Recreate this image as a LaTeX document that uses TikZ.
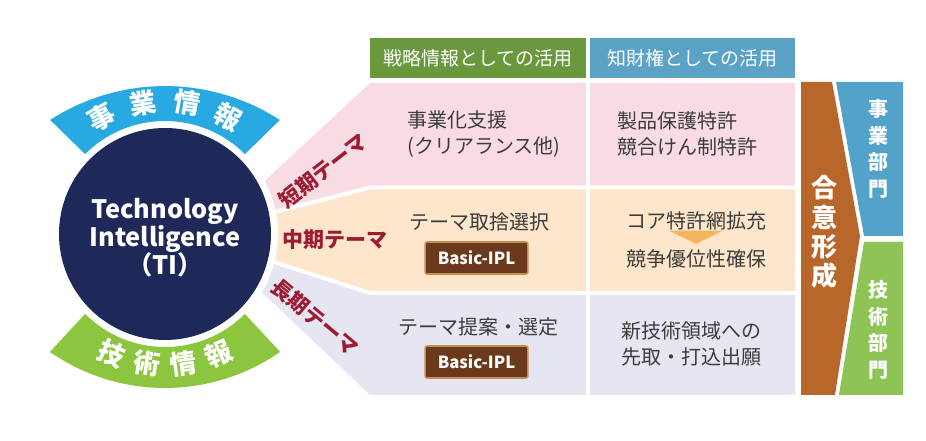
\documentclass[tikz,border=0pt]{standalone}
\usepackage{fontspec}
\setmainfont{Noto Sans CJK JP}
\usetikzlibrary{calc}
\definecolor{tinavy}{HTML}{1E2859}
\definecolor{bizband}{HTML}{29A9E1}
\definecolor{techband}{HTML}{8CC63F}
\definecolor{strathead}{HTML}{6A993D}
\definecolor{iprhead}{HTML}{5AA3C6}
\definecolor{shortrow}{HTML}{F9DCE3}
\definecolor{midrow}{HTML}{FDE6CC}
\definecolor{longrow}{HTML}{E6E6F2}
\definecolor{themered}{HTML}{9E1C32}
\definecolor{iplbrown}{HTML}{6B3A1C}
\definecolor{iplrim}{HTML}{C58E55}
\definecolor{agreeorange}{HTML}{B9662B}
\definecolor{bizdept}{HTML}{52A2C9}
\definecolor{techdept}{HTML}{8DC455}
\definecolor{celltext}{HTML}{3C3C3C}
\definecolor{chevron}{HTML}{F6B35E}
\tikzset{
    celltxt/.style={text=celltext,font=\fontsize{15}{19.5}\selectfont,align=left,inner sep=0pt},
    headtxt/.style={text=white,font=\fontsize{14.25}{16}\selectfont,minimum height=30pt},
    themetxt/.style={text=themered,font=\bfseries\fontsize{15.75}{16}\selectfont,inner sep=0pt},
    bandtxt/.style={text=white,font=\bfseries\fontsize{20}{20}\selectfont,inner sep=0pt},
    iplbox/.style={fill=iplbrown,draw=iplrim,line width=1.2pt,rounded corners=1.5pt,
        minimum width=77pt,minimum height=24pt,text=white,font=\bfseries\fontsize{12.5}{13}\selectfont},
    vertxt/.style={text=white,font=\bfseries\fontsize{15}{20}\selectfont,align=center,inner sep=0pt},
    gapline/.style={draw=white,line width=3pt}
}
\begin{document}
\begin{tikzpicture}[x=0.75pt,y=-0.75pt]
    \useasboundingbox (0,0) rectangle (926,441);
    \coordinate (c) at (165,234);
    \fill[shortrow] (370,83) -- (795,83) -- (795,187.5) -- (370,187.5) -- ([shift={(-11:113)}]c)
        arc[start angle=-11,end angle=-28,radius=113] -- cycle;
    \fill[midrow] (370,187.5) -- (795,187.5) -- (795,293) -- (370,293) -- ([shift={(14:113)}]c)
        arc[start angle=14,end angle=-11,radius=113] -- cycle;
    \fill[longrow] (370,293) -- (795,293) -- (795,395) -- (370,395) -- ([shift={(31:113)}]c)
        arc[start angle=31,end angle=14,radius=113] -- cycle;
    \draw[gapline] ([shift={(-11:100)}]c) -- (370,187.5) -- (795,187.5);
    \draw[gapline] ([shift={(14:100)}]c) -- (370,293) -- (795,293);
    \draw[gapline] (588,83) -- (588,395);
    \node[circle,fill=tinavy,minimum size=159pt,inner sep=0pt] (ti) at (c) {};
    \node[text=white,font=\bfseries\fontsize{19}{21}\selectfont,align=center] (tilabel) at (165,238) {Technology\\Intelligence\\（TI）};
    \fill[bizband] ([shift={(-135:113)}]c) arc[start angle=-135,end angle=-45,radius=113]
        -- (279.9,120) arc[start angle=-57.1,end angle=-122.9,radius=211.5] -- cycle;
    \fill[techband] ([shift={(135:113)}]c) arc[start angle=135,end angle=45,radius=113]
        -- (280.1,351.9) arc[start angle=55.2,end angle=124.8,radius=201.7] -- cycle;
    \foreach \ch/\a [count=\i] in {事/-118.5,業/-99.5,情/-80.5,報/-61.5}
        \node[bandtxt,rotate={-90-(\a)}] (biz\i) at ([shift={(\a:133)}]c) {\ch};
    \foreach \ch/\a [count=\i] in {技/114,術/98,情/82,報/66}
        \node[bandtxt,rotate={90-(\a)}] (tech\i) at ([shift={(\a:131)}]c) {\ch};
    \node[headtxt,fill=strathead,minimum width=162pt] (strat) at (478,58) {戦略情報としての活用};
    \node[headtxt,fill=iprhead,minimum width=153.75pt] (ipr) at (692.5,58) {知財権としての活用};
    \node[themetxt,rotate=38] (short) at (323,171) {短期テーマ};
    \node[themetxt] (mid) at (334.5,240) {中期テーマ};
    \node[themetxt,rotate=-40] (long) at (315,317) {長期テーマ};
    \node[celltxt,anchor=west] (support) at (407,134) {事業化支援\\(クリアランス他)};
    \node[celltxt,anchor=west] (protect) at (617,134) {製品保護特許\\競合けん制特許};
    \node[celltxt] (select) at (479,222) {テーマ取捨選択};
    \node[iplbox] (ipl1) at (476.5,258) {Basic-IPL};
    \node[celltxt] (core) at (696,221) {コア特許網拡充};
    \node[celltxt] (edge) at (696,259) {競争優位性確保};
    \fill[chevron] ([xshift=-20.5pt]core.south) -- ([xshift=20.5pt]core.south)
        -- ($(core.south)!0.7!(edge.north)$) -- cycle;
    \node[celltxt] (propose) at (478,327) {テーマ提案・選定};
    \node[iplbox] (ipl2) at (476.5,362) {Basic-IPL};
    \node[celltxt,anchor=west] (advance) at (621,344) {新技術領域への\\先取・打込出願};
    \fill[agreeorange] (801,82) -- (832,82) -- (860,236) -- (835,395) -- (801,395) -- cycle;
    \fill[bizdept] (836,82) -- (903,82) -- (903,236) -- (864,236) -- cycle;
    \fill[techdept] (864,242) -- (903,242) -- (903,395) -- (839,395) -- cycle;
    \node[vertxt,font=\bfseries\fontsize{19.5}{22}\selectfont] (agree) at (824,232) {合\\意\\形\\成};
    \node[vertxt] (bizunit) at (878,149) {事\\業\\部\\門};
    \node[vertxt] (techunit) at (878,330) {技\\術\\部\\門};
\end{tikzpicture}
\end{document}
